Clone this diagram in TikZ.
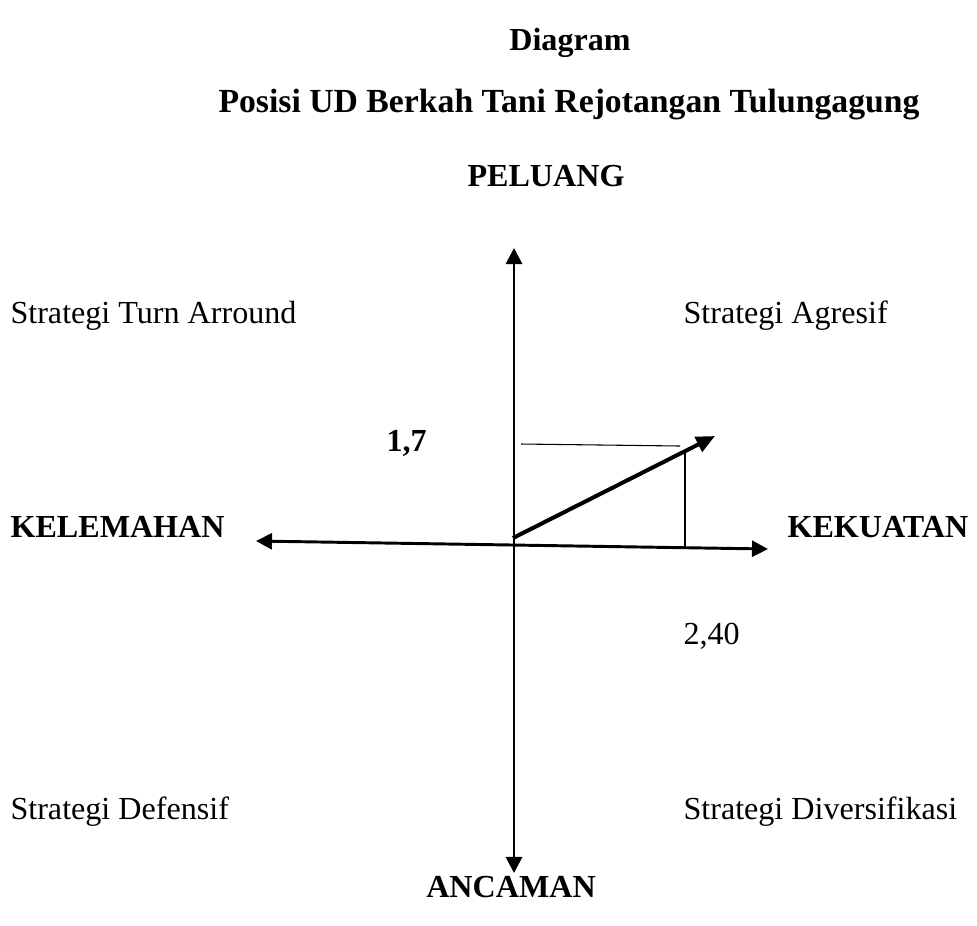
\documentclass[tikz,border=0pt]{standalone}
\usepackage{fontspec}
\setmainfont{Liberation Serif}
\usetikzlibrary{arrows.meta}
\tikzset{
    axis/.style={line width=1.1pt, {Triangle[length=6pt,width=6pt]}-{Triangle[length=6pt,width=6pt]}},
    vec/.style={line width=1.5pt, -{Triangle[length=7pt,width=6pt]}},
    guide/.style={line width=0.4pt},
    lbl/.style={anchor=base west, inner sep=0pt, font=\fontsize{12}{14}\selectfont},
    head/.style={anchor=base, inner sep=0pt, font=\fontsize{12}{14}\selectfont\bfseries}
}

\begin{document}
\begin{tikzpicture}[x=0.3738pt,y=-0.3738pt]
		\useasboundingbox (0,0) rectangle (977,925);
		
		% Title
		\node [head] (title) at (570,50) {Diagram};
		\node [head, font=\fontsize{12.6}{15}\selectfont\bfseries] (subtitle) at (569,112) {Posisi UD Berkah Tani Rejotangan Tulungagung};
		
		% Axis ends
		\coordinate (N) at (514,248);
		\coordinate (S) at (514,873);
		\coordinate (W) at (256,541);
		\coordinate (E) at (768,549);
		\draw [axis] (S) -- (N);
		\draw [axis] (W) -- (E);
		
		% Axis labels
		\node [head] (peluang) at (546,186) {PELUANG};
		\node [head] (ancaman) at (511,897) {ANCAMAN};
		\node [lbl, font=\fontsize{12}{14}\selectfont\bfseries] (kelemahan) at (10,537) {KELEMAHAN};
		\node [lbl, font=\fontsize{12}{14}\selectfont\bfseries] (kekuatan) at (787,537) {KEKUATAN};
		
		% Quadrant strategies
		\node [lbl] (turn) at (10,323) {Strategi Turn Arround};
		\node [lbl] (agresif) at (683,323) {Strategi Agresif};
		\node [lbl] (defensif) at (10,819) {Strategi Defensif};
		\node [lbl] (diversi) at (683,819) {Strategi Diversifikasi};
		
		% Position vector
		\coordinate (O) at (513,538);
		\coordinate (P) at (715,436);
		\draw [vec] (O) -- (P);
		
		% Guide lines
		\coordinate (gy1) at (521,444);
		\coordinate (gy2) at (680,446);
		\coordinate (gx1) at (685,452);
		\coordinate (gx2) at (685,548);
		\draw [guide] (gy1) -- (gy2);
		\draw [guide] (gx1) -- (gx2);
		
		% Values
		\node [lbl, font=\fontsize{12}{14}\selectfont\bfseries] (valy) at (386,451) {1,7};
		\node [lbl] (valx) at (683,644) {2,40};
		
	\end{tikzpicture}
\end{document}
